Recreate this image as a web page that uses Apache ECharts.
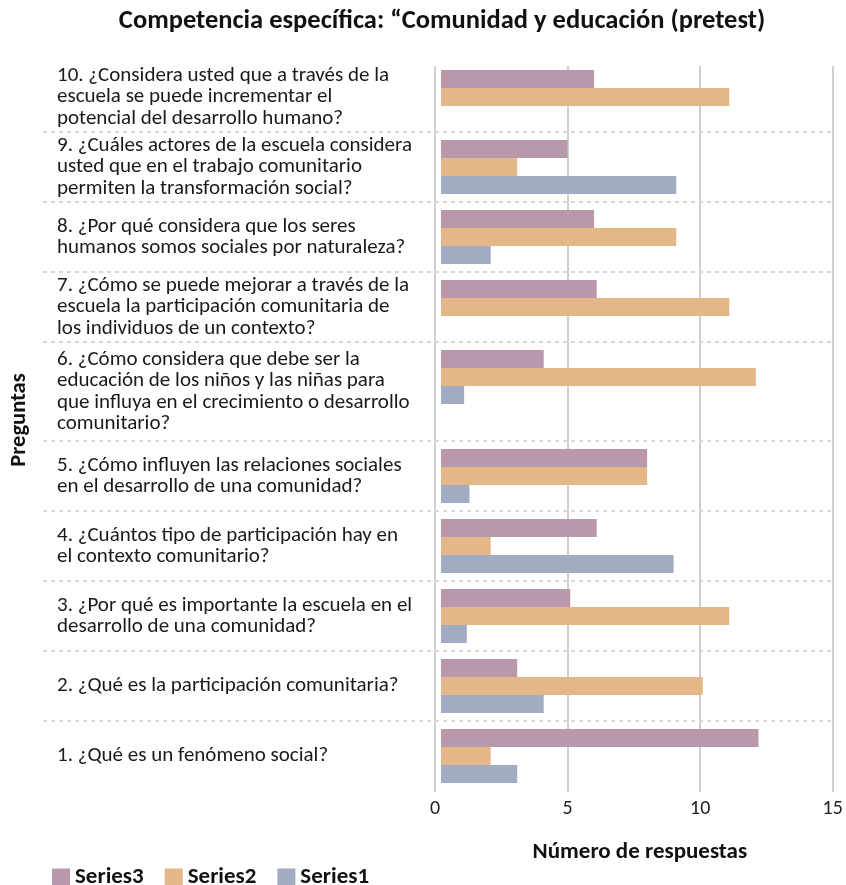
<!DOCTYPE html>
<html><head><meta charset="utf-8">
<script src="https://cdn.jsdelivr.net/npm/echarts@6/dist/echarts.min.js"></script>
<style>html,body{margin:0;padding:0;background:#fff}#c{width:846px;height:885px}</style>
</head><body><div id="c"></div>
<script>
// ---- data (question order 1..10) ----
const categories = [
 '1. ¿Qué es un fenómeno social?',
 '2. ¿Qué es la participación comunitaria?',
 '3. ¿Por qué es importante la escuela en el\ndesarrollo de una comunidad?',
 '4. ¿Cuántos tipo de participación hay en\nel contexto comunitario?',
 '5. ¿Cómo influyen las relaciones sociales\nen el desarrollo de una comunidad?',
 '6. ¿Cómo considera que debe ser la\neducación de los niños y las niñas para\nque influya en el crecimiento o desarrollo\ncomunitario?',
 '7. ¿Cómo se puede mejorar a través de la\nescuela la participación comunitaria de\nlos individuos de un contexto?',
 '8. ¿Por qué considera que los seres\nhumanos somos sociales por naturaleza?',
 '9. ¿Cuáles actores de la escuela considera\nusted que en el trabajo comunitario\npermiten la transformación social?',
 '10. ¿Considera usted que a través de la\nescuela se puede incrementar el\npotencial del desarrollo humano?'
];
const series3 = [12.2, 3.1, 5.1, 6.1, 8.0, 4.1, 6.1, 6.0, 5.0, 6.0];
const series2 = [2.1, 10.1, 11.1, 2.1, 8.0, 12.1, 11.1, 9.1, 3.1, 11.1];
const series1 = [3.1, 4.1, 1.2, 9.0, 1.3, 1.1, 0, 2.1, 9.1, 0];
const seriesNames = ['Series3', 'Series2', 'Series1'];
const xMin = 0, xMax = 15, xInterval = 5;
const titleText = 'Competencia específica: “Comunidad y educación (pretest)';
const xName = 'Número de respuestas';
const yName = 'Preguntas';

// ---- layout / style ----
const W = 846, H = 885;
const FONT = 'Carlito, Lato, sans-serif';
const colors = {Series1: '#A1ACC2', Series2: '#E3B787', Series3: '#B998AC'};
const plotLeft = 435, plotRight = 832.7, plotTop = 66, plotBottom = 792;
const barLeft = 441, labelX = 57, sepLeft = 43;
const rowTop0 = 62, baseH = 70;
const rowHeights = [70, 70, 70, 70, 99, 70, 70, 70, 70, 70]; // top to bottom (Q10..Q1)
const rowTops = [];
{ let y = rowTop0; for (const h of rowHeights) { rowTops.push(y); y += h; } }
const unit = (plotRight - plotLeft) / (xMax - xMin);
const rowMin = xMin + (barLeft - plotLeft) / unit;

const dataBy = {Series1: series1, Series2: series2, Series3: series3};
const grid = [{left: plotLeft, right: W - plotRight, top: plotTop, bottom: H - plotBottom}];
const xAxis = [{
  gridIndex: 0, type: 'value', min: xMin, max: xMax, interval: xInterval,
  axisLine: {show: false}, axisTick: {show: false},
  splitLine: {show: true, lineStyle: {color: '#cfcfcf', width: 2}},
  axisLabel: {fontSize: 20, color: '#222', fontFamily: FONT, margin: 7},
  name: xName, nameLocation: 'middle', nameGap: 49,
  nameTextStyle: {fontSize: 23, fontWeight: 'bold', color: '#111', fontFamily: FONT, padding: [0, 0, 0, 12]}
}];
const yAxis = [{
  gridIndex: 0, type: 'value', min: 0, max: 1,
  axisLine: {show: false}, axisTick: {show: false}, axisLabel: {show: false}, splitLine: {show: false},
  name: yName, nameLocation: 'middle', nameRotate: 90, nameGap: plotLeft - 31,
  nameTextStyle: {fontSize: 22.5, fontWeight: 'bold', color: '#111', fontFamily: FONT, padding: [0, 0, 0, 18]}
}];
const series = [];
const n = categories.length;
for (let i = 0; i < n; i++) {
  const q = n - 1 - i;
  // label grid: full row band
  const lg = grid.length;
  grid.push({left: barLeft, right: W - plotRight, top: rowTops[i], height: rowHeights[i]});
  xAxis.push({gridIndex: lg, type: 'value', min: rowMin, max: xMax, show: false});
  yAxis.push({
    gridIndex: lg, type: 'category', data: [categories[q]],
    axisLine: {show: false, onZero: false}, axisTick: {show: false}, splitLine: {show: false},
    axisLabel: {align: 'left', margin: barLeft - labelX, fontSize: 21, lineHeight: 21.5,
      color: '#1a1a1a', fontFamily: FONT}
  });
  // bar grid: top part of the band
  const bg = grid.length;
  grid.push({left: barLeft, right: W - plotRight, top: rowTops[i], height: baseH});
  xAxis.push({gridIndex: bg, type: 'value', min: rowMin, max: xMax, show: false});
  yAxis.push({gridIndex: bg, type: 'category', data: [categories[q]], show: false});
  for (const s of seriesNames) {
    series.push({
      name: s, type: 'bar', xAxisIndex: bg, yAxisIndex: bg,
      data: [dataBy[s][q]], barWidth: 18, barGap: '0%',
      itemStyle: {color: colors[s]}, clip: true
    });
  }
}
const graphic = [];
for (let i = 1; i < n; i++) {
  graphic.push({type: 'line', silent: true, z: 5,
    shape: {x1: sepLeft, y1: rowTops[i], x2: plotRight, y2: rowTops[i]},
    style: {stroke: '#d9d9d9', lineWidth: 2, lineDash: [4, 4]}});
}
const chart = echarts.init(document.getElementById('c'), null, {renderer: 'canvas'});
chart.setOption({
  animation: false,
  backgroundColor: '#fff',
  title: {text: titleText, left: 437, textAlign: 'center', top: 3,
    textStyle: {fontSize: 26.5, fontWeight: 'bold', color: '#111', fontFamily: FONT}},
  legend: {data: ['Series3', 'Series2', 'Series1'], left: 47, top: 861, itemWidth: 18, itemHeight: 18,
    itemGap: 21, icon: 'rect', textStyle: {fontSize: 23, fontWeight: 'bold', color: '#111', fontFamily: FONT}},
  grid, xAxis, yAxis, series, graphic
});
</script></body></html>
